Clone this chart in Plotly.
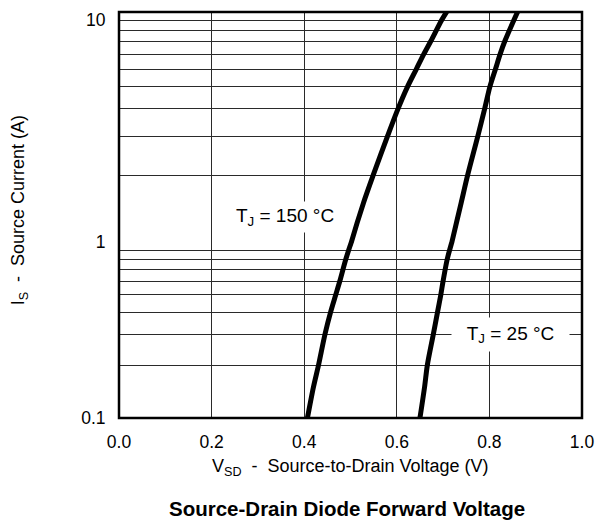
import plotly.graph_objects as go

# ---- data ----
i_points = [0.1, 0.15, 0.2, 0.3, 0.4, 0.5, 0.6, 0.8, 1.0, 1.5, 2, 3, 4, 5, 6, 7, 8, 10, 11]
v_150 = [0.407, 0.420, 0.431, 0.445, 0.457, 0.468, 0.477, 0.490, 0.502, 0.528, 0.549, 0.580,
         0.603, 0.623, 0.642, 0.658, 0.673, 0.697, 0.709]
v_25 = [0.650, 0.660, 0.666, 0.679, 0.688, 0.695, 0.700, 0.709, 0.719, 0.739, 0.753, 0.775,
        0.790, 0.801, 0.813, 0.823, 0.833, 0.853, 0.862]

x_ticks = [0.0, 0.2, 0.4, 0.6, 0.8, 1.0]
x_tick_labels = ["0.0", "0.2", "0.4", "0.6", "0.8", "1.0"]

y_ticks_low = [0.1, 1.0]
y_labels_low = ["0.1", "1"]
y_grid_low = [0.2, 0.3, 0.4, 0.5, 0.6, 0.7, 0.8, 0.9]
y_ticks_high = [10]
y_labels_high = ["10"]
y_grid_high = [1, 2, 3, 4, 5, 6, 7, 8, 9]

label_150 = "T<sub>J</sub> = 150 °C"
label_25 = "T<sub>J</sub> = 25 °C"

FONT = "Liberation Sans, Arial, Helvetica, sans-serif"
GRID = "#2a2a2a"

fig = go.Figure()


def add_series(v, i):
    k = i.index(1.0)
    style = dict(color="black", width=5, shape="spline", smoothing=0.8)
    # lower decade part (one extra point beyond the edge, clipped by the subplot)
    fig.add_trace(go.Scatter(x=v[:k + 2], y=i[:k + 2], xaxis="x", yaxis="y",
                             mode="lines", line=style, hoverinfo="skip", showlegend=False))
    # upper decade part
    fig.add_trace(go.Scatter(x=v[k - 1:], y=i[k - 1:], xaxis="x2", yaxis="y2",
                             mode="lines", line=style, hoverinfo="skip", showlegend=False))


add_series(v_150, i_points)
add_series(v_25, i_points)

split = 176 / 406
tick_font = dict(family=FONT, size=17.5, color="black")
common_x = dict(range=[0, 1], tickvals=x_ticks, showgrid=True, gridcolor=GRID, gridwidth=1.2,
                zeroline=False, showline=False)
common_y = dict(type="log", showgrid=True, gridcolor=GRID, gridwidth=1.2, zeroline=False,
                showline=False, ticks="outside", ticklen=9, tickcolor="rgba(0,0,0,0)", tickfont=tick_font)

fig.update_layout(
    width=595, height=520,
    margin=dict(l=119, r=13, t=12, b=102, autoexpand=False),
    paper_bgcolor="white", plot_bgcolor="white",
    font=dict(family=FONT, size=18, color="black"),
    showlegend=False,
    xaxis=dict(**common_x, domain=[0, 1], anchor="y", ticktext=x_tick_labels,
               ticks="outside", ticklen=8, tickcolor="rgba(0,0,0,0)", tickfont=tick_font,
               ticklabeloverflow="allow"),
    xaxis2=dict(**common_x, domain=[0, 1], anchor="y2", matches="x", showticklabels=False, ticks=""),
    yaxis=dict(**common_y, domain=[0, split], range=[-1, 0], tickvals=y_ticks_low, ticktext=y_labels_low,
               minor=dict(tickvals=y_grid_low, showgrid=True, gridcolor=GRID, gridwidth=1.2, ticks="")),
    yaxis2=dict(**common_y, domain=[split, 1], range=[0, 1.0361], tickvals=y_ticks_high, ticktext=y_labels_high,
                minor=dict(tickvals=y_grid_high, showgrid=True, gridcolor=GRID, gridwidth=1.2, ticks="")),
    shapes=[dict(type="rect", xref="paper", yref="paper", x0=0, x1=1, y0=0, y1=1,
                 line=dict(color="black", width=2.5), fillcolor="rgba(0,0,0,0)", layer="above")],
)

annotations = [
    dict(text=label_150, xref="x2", yref="y2", x=0.358, y=0.111, showarrow=False,
         bgcolor="white", width=120, height=30, borderpad=0, font=dict(family=FONT, size=19)),
    dict(text=label_25, xref="x", yref="y", x=0.845, y=-0.523, showarrow=False,
         bgcolor="white", width=117, height=33, borderpad=0, font=dict(family=FONT, size=19)),
    dict(text="V<sub>SD</sub>  -  Source-to-Drain Voltage (V)", xref="paper", yref="paper",
         x=0.5, y=-0.1207, xanchor="center", yanchor="middle", showarrow=False,
         font=dict(family=FONT, size=18)),
    dict(text="<b>Source-Drain Diode Forward Voltage</b>", xref="paper", yref="paper",
         x=0.492, y=-0.2217, xanchor="center", yanchor="middle", showarrow=False,
         font=dict(family=FONT, size=20.5)),
    dict(text="I<sub>S</sub>  -  Source Current (A)", xref="paper", yref="paper",
         x=-0.2155, y=0.512, xanchor="center", yanchor="middle", textangle=-90, showarrow=False,
         font=dict(family=FONT, size=18)),
]
fig.update_layout(annotations=annotations)

fig.write_html("out.html", config={"displayModeBar": False},
               post_script="document.body.style.margin='0';")
